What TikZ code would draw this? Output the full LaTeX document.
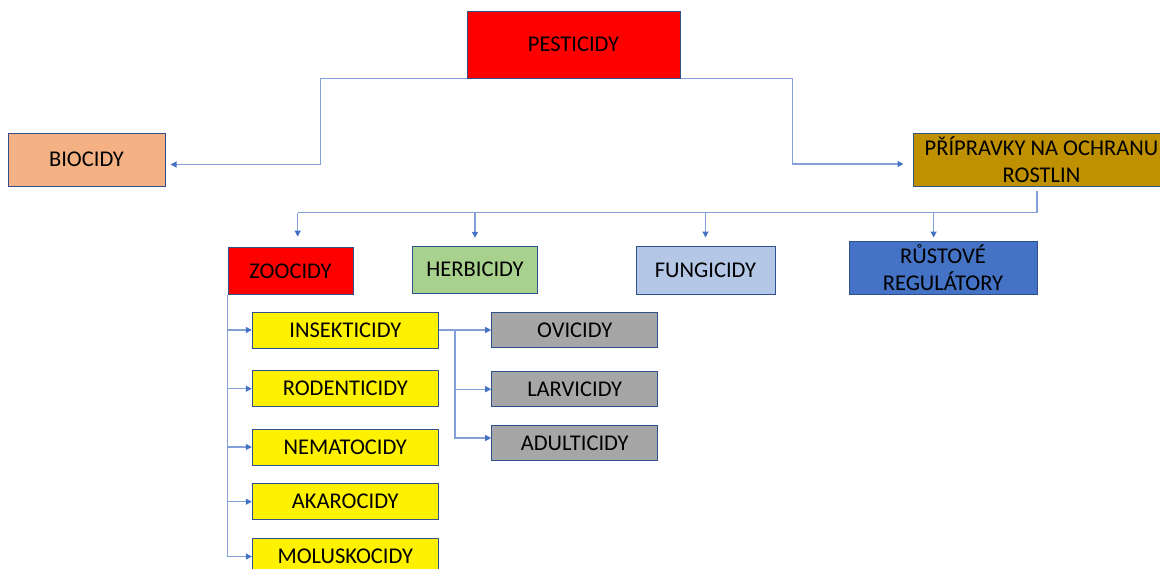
\documentclass[tikz,border=0pt]{standalone}
\usepackage{fontspec}
\setmainfont{Carlito}
\usetikzlibrary{arrows.meta,positioning}

\definecolor{edgeblue}{RGB}{47,82,143}
\definecolor{linkblue}{RGB}{130,160,215}
\definecolor{tipblue}{RGB}{68,114,196}
\definecolor{biocolor}{RGB}{244,177,131}
\definecolor{ppocolor}{RGB}{191,144,0}
\definecolor{herbcolor}{RGB}{169,209,142}
\definecolor{funcolor}{RGB}{180,199,231}
\definecolor{regcolor}{RGB}{68,114,196}
\definecolor{greycolor}{RGB}{166,166,166}

\begin{document}
\begin{tikzpicture}[x=1pt,y=-1pt,
    box/.style={rectangle,draw=edgeblue,line width=1pt,align=center,inner sep=1pt,
      font=\fontsize{22.5}{27}\selectfont},
    yellowbox/.style={box,fill=yellow,minimum width=186pt,minimum height=36pt},
    greybox/.style={box,fill=greycolor,minimum width=166pt,minimum height=35pt},
    link/.style={draw=linkblue,line width=1.2pt},
    >={Triangle[length=6pt,width=6pt,color=tipblue]}]
    \useasboundingbox (0,0) rectangle (1160,568);

    % Top level
    \node[box,fill=red,minimum width=213pt,minimum height=67pt] (pest) at (573.5,44.5) {PESTICIDY};
    \node[box,fill=biocolor,minimum width=157pt,minimum height=53pt] (bio) at (86.5,159.5) {BIOCIDY};
    \node[box,fill=ppocolor,minimum width=257pt,minimum height=53pt] (ppo) at (1041.5,159.5) {PŘÍPRAVKY NA OCHRANU\\ROSTLIN};

    % Groups of plant protection products
    \node[box,fill=red,minimum width=125pt,minimum height=47pt] (zoo) at (290.5,271) {ZOOCIDY};
    \node[box,fill=herbcolor,minimum width=125pt,minimum height=47pt] (herb) at (475,269.5) {HERBICIDY};
    \node[box,fill=funcolor,minimum width=139pt,minimum height=48pt] (fung) at (705.5,270) {FUNGICIDY};
    \node[box,fill=regcolor,minimum width=188pt,minimum height=53pt] (reg) at (943,267.5) {RŮSTOVÉ\\REGULÁTORY};

    % Zoocidy
    \node[yellowbox] (insect) at (345.3,330) {INSEKTICIDY};
    \node[yellowbox] (rodent) at (345.3,388.7) {RODENTICIDY};
    \node[yellowbox] (nemat) at (345.3,447) {NEMATOCIDY};
    \node[yellowbox] (akaro) at (345.3,501.7) {AKAROCIDY};
    \node[yellowbox] (molus) at (345.3,556.5) {MOLUSKOCIDY};

    % Insekticidy
    \node[greybox] (ovi) at (574.7,330) {OVICIDY};
    \node[greybox] (larv) at (574.7,389.2) {LARVICIDY};
    \node[greybox] (adult) at (574.7,443) {ADULTICIDY};

    % Arrows from the top
    \draw[link,->,shorten >=5pt] (pest.south west) -- ++(-146,0) |- ([yshift=-5pt]bio.east);
    \draw[link,->,shorten >=9pt] (pest.south east) -- ++(112,0) |- ([yshift=-4.5pt]ppo.west);

    % Bus below the plant protection products
    \coordinate (bus) at (1037,212.7);
    \draw[link] ([xshift=-4.5pt,yshift=-4pt]ppo.south) -- (bus) -- ([xshift=7.2pt]zoo.north |- bus);
    \draw[link,->,shorten >=10.4pt] ([xshift=7.2pt]zoo.north |- bus) -- ([xshift=7.2pt]zoo.north);
    \draw[link,->,shorten >=7.7pt] (herb.north |- bus) -- (herb.north);
    \draw[link,->,shorten >=8pt] (fung.north |- bus) -- (fung.north);
    \draw[link,->,shorten >=3pt] ([xshift=-9.4pt]reg.north |- bus) -- ([xshift=-9.4pt]reg.north);

    % Zoocidy spine
    \foreach \n in {insect,rodent,nemat,akaro,molus}
        \draw[link,->] (zoo.south west) |- (\n.west);

    % Insekticidy split
    \coordinate (split) at (455,330);
    \draw[link,->] (insect.east) -- (ovi.west);
    \draw[link,->] (split) |- (larv.west);
    \draw[link,->] (split) |- ([yshift=5pt]adult.west);
\end{tikzpicture}
\end{document}
